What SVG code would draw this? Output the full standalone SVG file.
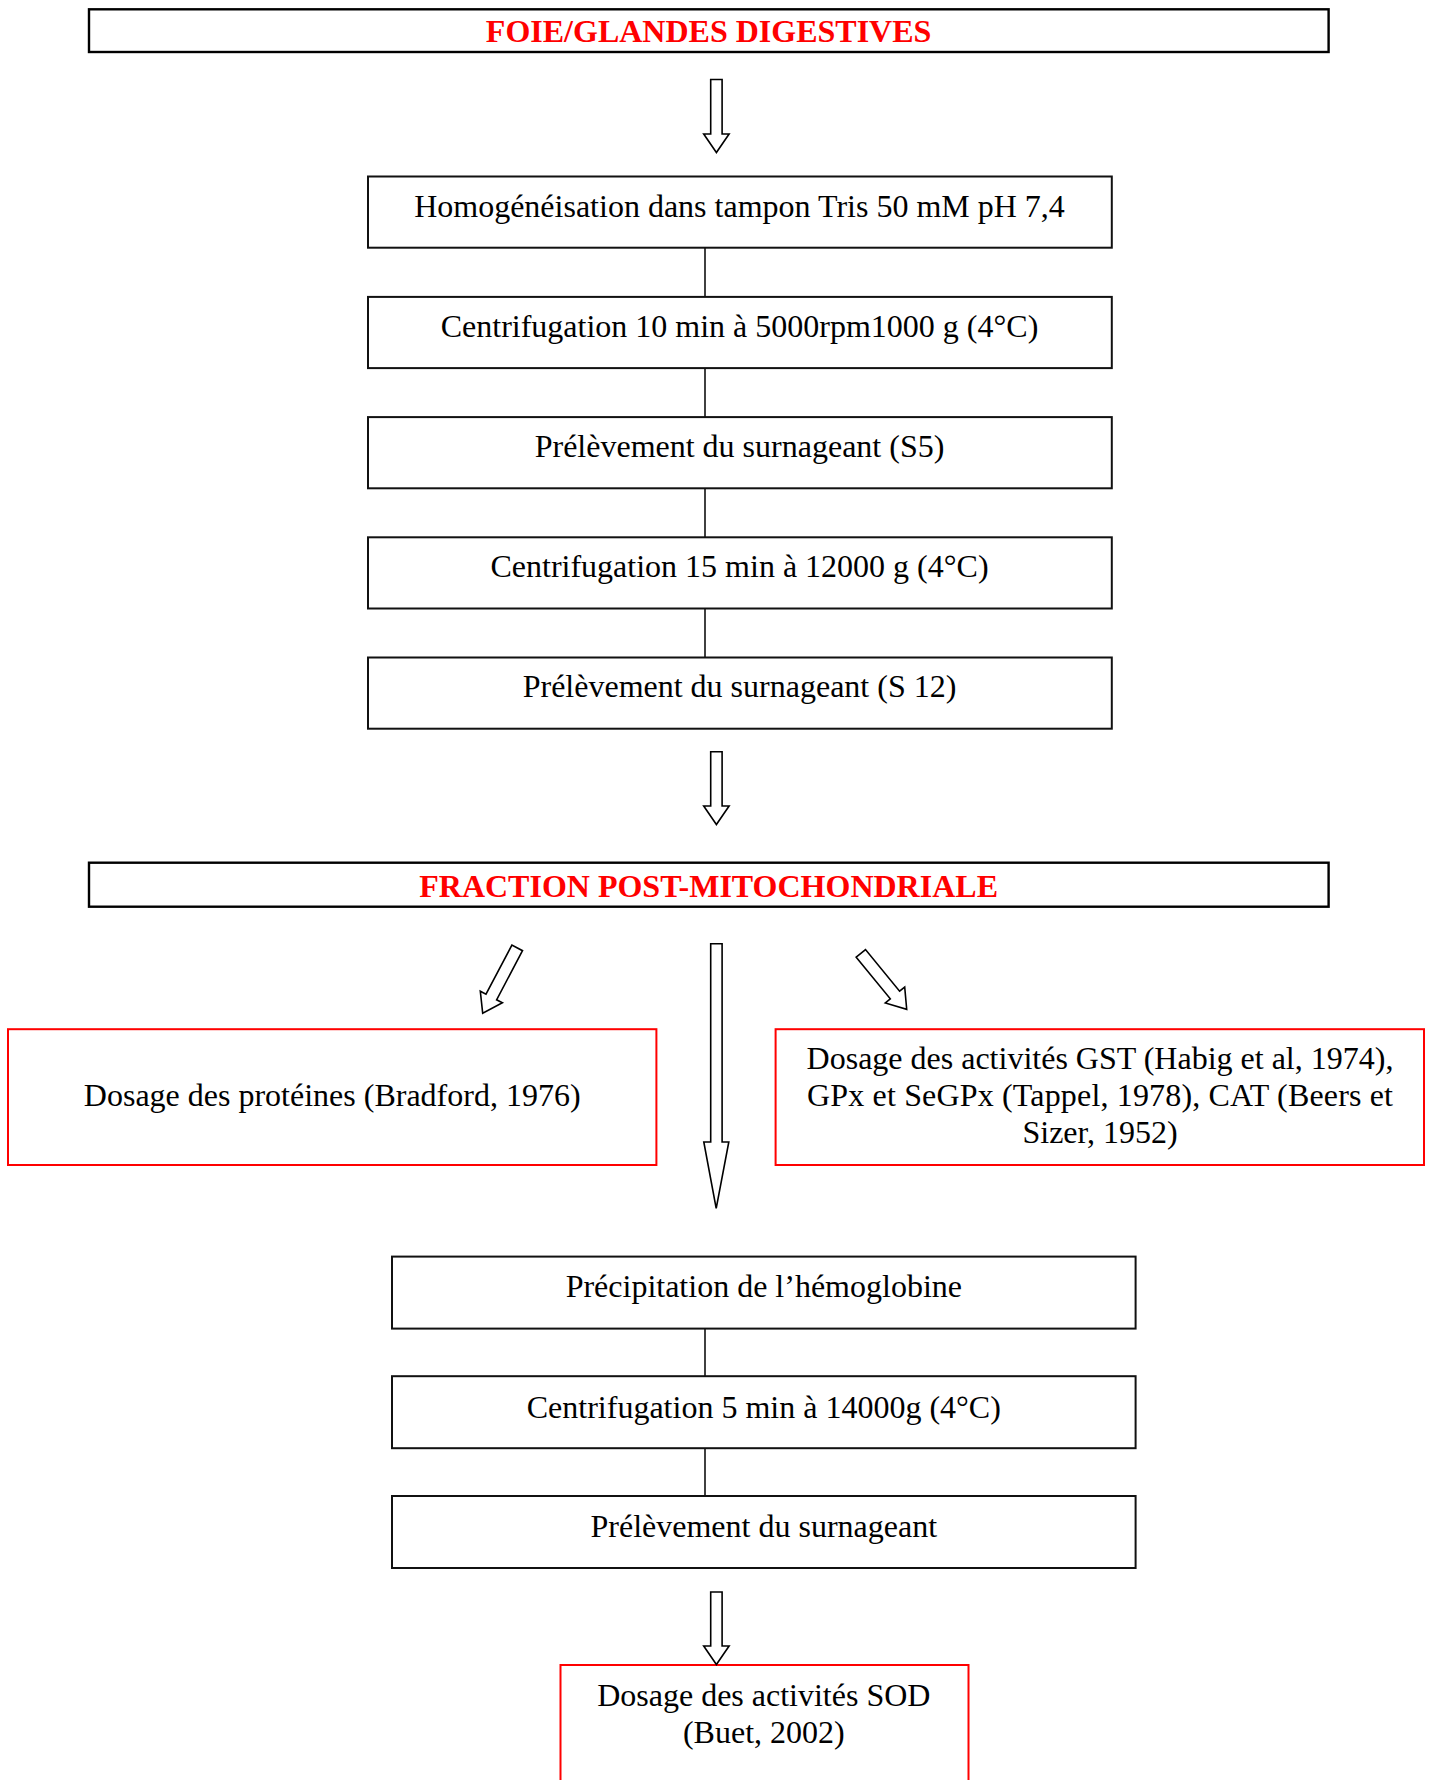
<svg xmlns="http://www.w3.org/2000/svg" width="1432" height="1780" viewBox="0 0 1432 1780">
  <style>
    text { font-family: "Liberation Serif", "Times New Roman", serif; font-size: 32px; fill: #000; }
    .title { font-weight: bold; fill: #ff0000; }
    .hdr { fill: #fff; stroke: #000; stroke-width: 2.4; }
    .step { fill: #fff; stroke: #111; stroke-width: 2; }
    .red { fill: #fff; stroke: #ff0000; stroke-width: 2; }
    .link { stroke: #111; stroke-width: 1.6; fill: none; }
    .arrow { fill: #fff; stroke: #000; stroke-width: 1.6; stroke-linejoin: miter; }
  </style>
  <rect width="1432" height="1780" fill="#fff"/>

  <!-- Header -->
  <g id="foie">
    <rect class="hdr" x="89" y="9.3" width="1239.6" height="42.7"/>
    <text class="title" x="708.6" y="42" text-anchor="middle">FOIE/GLANDES DIGESTIVES</text>
  </g>

  <!-- Preparation steps -->
  <g id="homogeneisation">
    <rect class="step" x="368" y="176.5" width="743.8" height="71.2"/>
    <text x="739.5" y="216.5" text-anchor="middle">Homogénéisation dans tampon Tris 50 mM pH 7,4</text>
  </g>
  <g id="centri1">
    <rect class="step" x="368" y="296.9" width="743.8" height="71.2"/>
    <text x="739.5" y="336.9" text-anchor="middle">Centrifugation 10 min à 5000rpm1000 g (4°C)</text>
  </g>
  <g id="s5">
    <rect class="step" x="368" y="417.1" width="743.8" height="71.2"/>
    <text x="739.5" y="457.1" text-anchor="middle">Prélèvement du surnageant (S5)</text>
  </g>
  <g id="centri2">
    <rect class="step" x="368" y="537.3" width="743.8" height="71.2"/>
    <text x="739.5" y="577.3" text-anchor="middle">Centrifugation 15 min à 12000 g (4°C)</text>
  </g>
  <g id="s12">
    <rect class="step" x="368" y="657.5" width="743.8" height="71.2"/>
    <text x="739.5" y="697" text-anchor="middle">Prélèvement du surnageant (S 12)</text>
  </g>

  <!-- Post-mitochondrial fraction -->
  <g id="fraction">
    <rect class="hdr" x="89" y="862.7" width="1239.6" height="44"/>
    <text class="title" x="708.6" y="897" text-anchor="middle">FRACTION POST-MITOCHONDRIALE</text>
  </g>

  <g id="proteines">
    <rect class="red" x="8" y="1029.2" width="648.4" height="135.8"/>
    <text x="332.2" y="1106" text-anchor="middle">Dosage des protéines (Bradford, 1976)</text>
  </g>
  <g id="activites">
    <rect class="red" x="775.6" y="1029.2" width="648.4" height="135.8"/>
    <text x="1100" y="1069" text-anchor="middle">Dosage des activités GST (Habig et al, 1974),</text>
    <text x="1100" y="1106" text-anchor="middle" textLength="586" lengthAdjust="spacing">GPx et SeGPx (Tappel, 1978), CAT (Beers et</text>
    <text x="1100" y="1143" text-anchor="middle">Sizer, 1952)</text>
  </g>

  <!-- Hemoglobin removal -->
  <g id="precipitation">
    <rect class="step" x="392" y="1256.6" width="743.6" height="72"/>
    <text x="763.8" y="1296.5" text-anchor="middle">Précipitation de l’hémoglobine</text>
  </g>
  <g id="centri3">
    <rect class="step" x="392" y="1376.2" width="743.6" height="72"/>
    <text x="763.8" y="1417.5" text-anchor="middle">Centrifugation 5 min à 14000g (4°C)</text>
  </g>
  <g id="surnageant">
    <rect class="step" x="392" y="1496" width="743.6" height="72"/>
    <text x="763.8" y="1537" text-anchor="middle">Prélèvement du surnageant</text>
  </g>

  <g id="sod">
    <rect class="red" x="560.5" y="1665" width="408" height="140"/>
    <text x="763.8" y="1705.5" text-anchor="middle">Dosage des activités SOD</text>
    <text x="763.8" y="1742.5" text-anchor="middle">(Buet, 2002)</text>
  </g>

  <!-- Connectors -->
  <g id="connectors">
    <line class="link" x1="705" y1="247.7" x2="705" y2="296.9"/>
    <line class="link" x1="705" y1="368.1" x2="705" y2="417.1"/>
    <line class="link" x1="705" y1="488.3" x2="705" y2="537.3"/>
    <line class="link" x1="705" y1="608.5" x2="705" y2="657.5"/>
    <line class="link" x1="705" y1="1328.6" x2="705" y2="1376.2"/>
    <line class="link" x1="705" y1="1448.2" x2="705" y2="1496"/>

    <!-- block arrows -->
    <path class="arrow" d="M710.7,79.5 H722.1 V134 H729.1 L716.4,152.5 L703.7,134 H710.7 Z"/>
    <path class="arrow" d="M710.7,751.8 H722.1 V806 H729.1 L716.4,824.5 L703.7,806 H710.7 Z"/>
    <path class="arrow" d="M710.7,943.7 H722.1 V1142 H728.8 L716.2,1208.3 L703.8,1142 H710.7 Z"/>
    <path class="arrow" d="M710.7,1592 H722.1 V1646 H729.1 L716.4,1664.5 L703.7,1646 H710.7 Z"/>
    <path class="arrow" d="M522.5,950.7 L496.6,999.8 L502.4,1002.8 L482.7,1013.3 L480.3,991.2 L486,994.2 L511.9,945.1 Z"/>
    <path class="arrow" d="M856.2,957.2 L890.3,998.8 L885.3,1002.9 L906.7,1009.3 L904.7,987.1 L899.6,991.2 L865.5,949.6 Z"/>
  </g>
</svg>
